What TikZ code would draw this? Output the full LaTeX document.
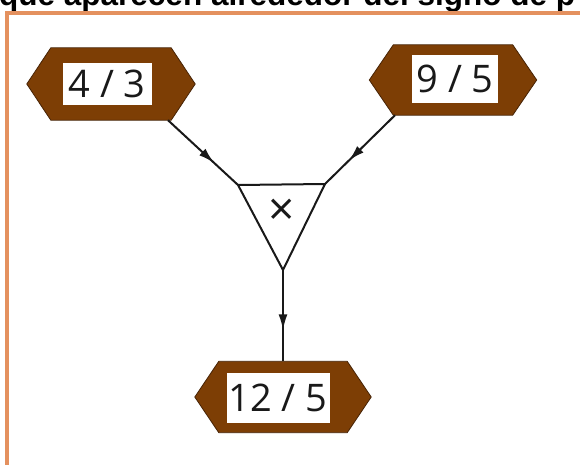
\documentclass[tikz,border=0pt]{standalone}
\usepackage{fontspec}
\setmainfont{Open Sans}
\newfontfamily\headfont{Liberation Sans}
\usetikzlibrary{arrows.meta, positioning, calc, decorations.markings}
\definecolor{fracBrown}{RGB}{125, 62, 5}
\definecolor{fracEdge}{RGB}{70, 35, 5}
\definecolor{frameOrange}{RGB}{228, 145, 95}
\definecolor{lineDark}{RGB}{25, 25, 25}

\begin{document}
\begin{tikzpicture}[
    x=1pt, y=-1pt,
    >=Latex,
    % Outline box of a fraction (hexagon drawn on it)
    hexbox/.style={
        rectangle,
        inner sep=0pt
    },
    % Brown hexagon fill
    hexfill/.style={
        draw=fracEdge,
        fill=fracBrown,
        line width=0.8pt,
        line join=miter
    },
    % White label holding the fraction
    fraction/.style={
        rectangle,
        fill=white,
        inner sep=0pt,
        align=center,
        text=lineDark,
        font=\fontsize{38}{40}\selectfont
    },
    % Connector with its arrow part way along
    conn/.style={
        draw=lineDark,
        line width=2pt,
        postaction={decorate},
        decoration={markings,
            mark=at position 0.66 with {\arrow{Latex[length=16pt,width=9pt]}}}
    },
    % Operator triangle
    operator/.style={
        draw=lineDark,
        line width=2pt,
        line join=miter
    }
]

    % Page and clipped heading
    \clip (0,0) rectangle (580,465);
    \fill[white] (0,0) rectangle (580,465);
    \node[anchor=base west, inner sep=0pt, font=\headfont\bfseries\fontsize{31.5}{32}\selectfont] (head) at (-1,5.5) {que aparecen alrededor del signo de p};
    \draw[frameOrange, line width=3.5pt] (7,480) |- (600,13);

    % Fractions
    \node (h43) [hexbox, minimum width=168pt, minimum height=72pt] at (111,84) {};
    \node (h95) [hexbox, minimum width=167pt, minimum height=70pt] at (453,80) {};
    \node (h125) [hexbox, minimum width=176pt, minimum height=71pt] at (283,397) {};

    \foreach \h in {h43, h95, h125} {
        \path[hexfill] ($(\h.north west)+(24,0)$) -- ($(\h.north east)+(-24,0)$) -- (\h.east)
            -- ($(\h.south east)+(-24,0)$) -- ($(\h.south west)+(24,0)$) -- (\h.west) -- cycle;
    }

    \node (v43) [fraction, minimum width=89pt, minimum height=42pt] at (107,84) {4 / 3};
    \node (v95) [fraction, minimum width=86pt, minimum height=48pt] at (455,79) {9 / 5};
    \node (v125) [fraction, minimum width=103pt, minimum height=50pt] at (278,398) {12 / 5};

    % Multiplication triangle
    \coordinate (t1) at (238,185);
    \coordinate (t2) at (325,184);
    \coordinate (t3) at (283,270);
    \draw[operator] (t1) -- (t2) -- (t3) -- cycle;
    \node (op) [text=lineDark, font=\fontsize{46}{46}\selectfont, inner sep=0pt] at (282,212) {×};

    % Connector Arrows
    \draw [conn] ([xshift=57pt]h43.south) -- (t1);
    \draw [conn] ([xshift=-58pt]h95.south) -- (t2);
    \draw [conn] (t3) -- (h125.north);

\end{tikzpicture}
\end{document}
